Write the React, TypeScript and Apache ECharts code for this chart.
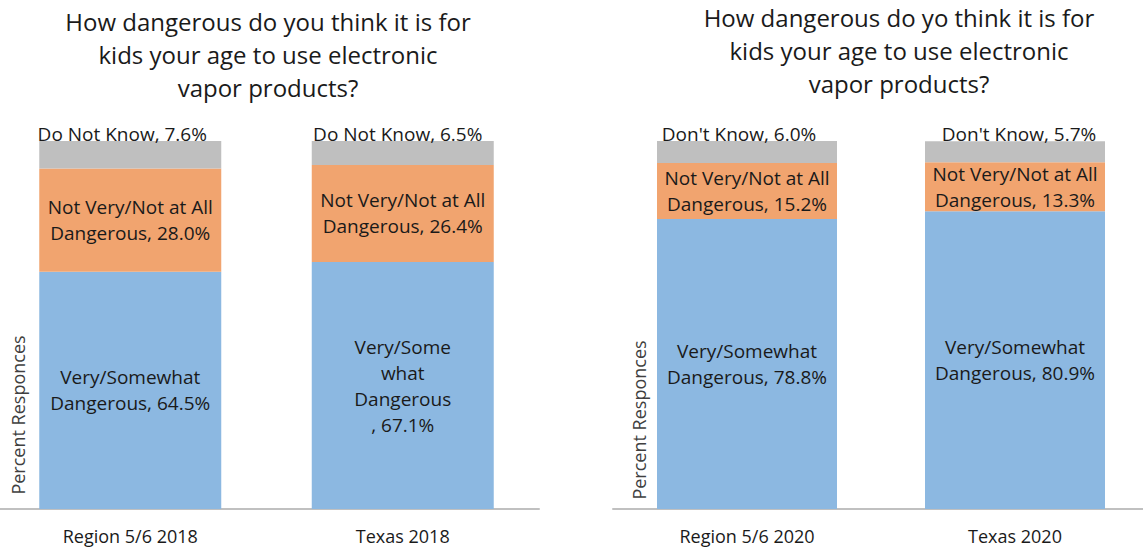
import React, { useEffect, useRef } from "react";
import * as echarts from "echarts";

const categories2018 = ["Region 5/6 2018", "Texas 2018"];
const categories2020 = ["Region 5/6 2020", "Texas 2020"];

const veryDangerous2018 = [64.5, 67.1];
const notVery2018 = [28.0, 26.4];
const doNotKnow2018 = [7.6, 6.5];

const veryDangerous2020 = [78.8, 80.9];
const notVery2020 = [15.2, 13.3];
const dontKnow2020 = [6.0, 5.7];

const veryLabels2018 = ["Very/Somewhat\nDangerous, ", "Very/Some\nwhat\nDangerous\n, "];
const veryLabels2020 = ["Very/Somewhat\nDangerous, ", "Very/Somewhat\nDangerous, "];
const notVeryLabel = "Not Very/Not at All\nDangerous, ";
const doNotKnowLabel2018 = "Do Not Know, ";
const dontKnowLabel2020 = "Don't Know, ";

const title2018 = "How dangerous do you think it is for\nkids your age to use electronic\nvapor products?";
const title2020 = "How dangerous do yo think it is for\nkids your age to use electronic\nvapor products?";
const yAxisTitle = "Percent Responces";

const FONT = "'Open Sans', 'Noto Sans', sans-serif";
const BLUE = "#8cb8e1";
const ORANGE = "#f1a46f";
const GRAY = "#bfbfbf";
const TEXT = "#1a1a1a";

export default function App() {
  const ref = useRef<HTMLDivElement>(null);

  useEffect(() => {
    if (!ref.current) return;
    const chart = echarts.init(ref.current, null, { renderer: "svg" });

    const fmt = (prefixes: string[] | string) => (p: any) => {
      const pre = Array.isArray(prefixes) ? prefixes[p.dataIndex] : prefixes;
      return `${pre}${Number(p.value).toFixed(1)}%`;
    };

    const labelBase = {
      show: true,
      color: TEXT,
      fontFamily: FONT,
      fontSize: 19,
      lineHeight: 26,
    };

    const grayOffsets2018 = [[-8, 0], [-5, 0]];
    const grayOffsets2020 = [[-8, 0], [4, 0]];

    const mkSeries = (
      gridIdx: number,
      stack: string,
      blue: number[],
      orange: number[],
      gray: number[],
      blueLabels: string[],
      grayLabel: string,
      grayOffsets: number[][],
      barWidth: number
    ) => [
      {
        type: "bar",
        stack,
        xAxisIndex: gridIdx,
        yAxisIndex: gridIdx,
        barWidth,
        data: blue,
        itemStyle: { color: BLUE },
        label: { ...labelBase, position: "inside", formatter: fmt(blueLabels) },
      },
      {
        type: "bar",
        stack,
        xAxisIndex: gridIdx,
        yAxisIndex: gridIdx,
        barWidth,
        data: orange,
        itemStyle: { color: ORANGE },
        label: { ...labelBase, position: "inside", formatter: fmt(notVeryLabel) },
      },
      {
        type: "bar",
        stack,
        xAxisIndex: gridIdx,
        yAxisIndex: gridIdx,
        barWidth,
        data: gray.map((v, i) => ({ value: v, label: { offset: grayOffsets[i] } })),
        itemStyle: { color: GRAY },
        label: {
          ...labelBase,
          position: "top",
          distance: -3,
          lineHeight: 20,
          formatter: fmt(grayLabel),
        },
      },
    ];

    const xAxisBase = {
      type: "category",
      axisTick: { show: false },
      axisLine: { lineStyle: { color: "#c0c0c0", width: 2 } },
      axisLabel: { color: TEXT, fontFamily: FONT, fontSize: 18, margin: 18 },
    };

    const yAxisBase = { type: "value", min: 0, max: 100, show: false };

    const yTitle = (x: number, y: number) => ({
      type: "text",
      x,
      y,
      rotation: Math.PI / 2,
      style: {
        text: yAxisTitle,
        textAlign: "center",
        textVerticalAlign: "middle",
        fontFamily: FONT,
        fontSize: 18,
        fill: "#404040",
      },
    });

    const mainTitle = (text: string, x: number, y: number) => ({
      type: "text",
      x,
      y,
      style: {
        text,
        textAlign: "center",
        textVerticalAlign: "top",
        fontFamily: FONT,
        fontSize: 24,
        lineHeight: 33,
        fill: TEXT,
      },
    });

    chart.setOption({
      animation: false,
      grid: [
        { left: -6, width: 545, top: 141, height: 368, outerBoundsMode: "none", containLabel: false },
        { left: 613, width: 536, top: 141, height: 368, outerBoundsMode: "none", containLabel: false },
      ],
      xAxis: [
        { ...xAxisBase, gridIndex: 0, data: categories2018 },
        { ...xAxisBase, gridIndex: 1, data: categories2020 },
      ],
      yAxis: [
        { ...yAxisBase, gridIndex: 0 },
        { ...yAxisBase, gridIndex: 1 },
      ],
      series: [
        ...mkSeries(0, "s2018", veryDangerous2018, notVery2018, doNotKnow2018, veryLabels2018, doNotKnowLabel2018, grayOffsets2018, 182),
        ...mkSeries(1, "s2020", veryDangerous2020, notVery2020, dontKnow2020, veryLabels2020, dontKnowLabel2020, grayOffsets2020, 180),
      ],
      graphic: [
        mainTitle(title2018, 268, 5),
        mainTitle(title2020, 899, 1),
        yTitle(18, 415),
        yTitle(639, 420),
      ],
    });

    return () => chart.dispose();
  }, []);

  return (
    <div
      ref={ref}
      style={{ position: "fixed", left: 0, top: 0, width: 1143, height: 552, background: "#fff" }}
    />
  );
}
